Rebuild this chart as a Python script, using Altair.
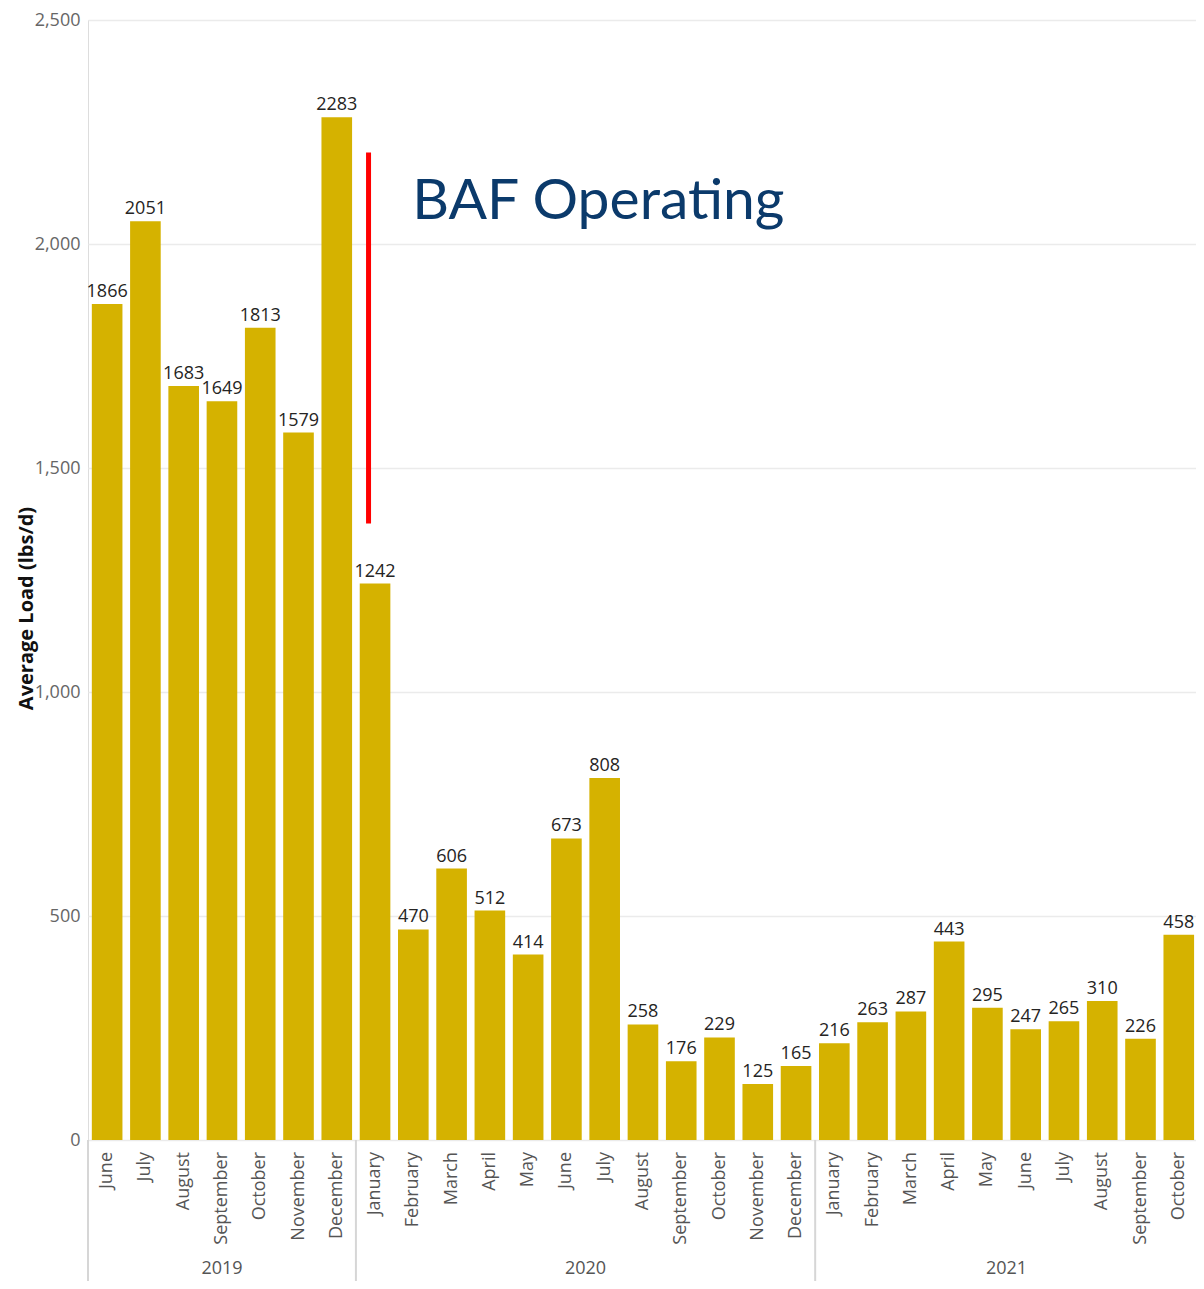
import altair as alt
import pandas as pd

# ---- data ----
months_2019 = ["June", "July", "August", "September", "October", "November", "December"]
values_2019 = [1866, 2051, 1683, 1649, 1813, 1579, 2283]
months_2020 = ["January", "February", "March", "April", "May", "June", "July",
               "August", "September", "October", "November", "December"]
values_2020 = [1242, 470, 606, 512, 414, 673, 808, 258, 176, 229, 125, 165]
months_2021 = ["January", "February", "March", "April", "May", "June", "July",
               "August", "September", "October"]
values_2021 = [216, 263, 287, 443, 295, 247, 265, 310, 226, 458]

y_ticks = [0, 500, 1000, 1500, 2000, 2500]

# annotation: red marker between December 2019 and January 2020
baf_line_x = [7.33]
baf_line_y = [1376]
baf_line_y2 = [2204]
baf_text = ["BAF Operating"]
baf_text_x = [8.47]
baf_text_y = [2055]

rows = []
i = 0
for yr, ms, vs in (("2019", months_2019, values_2019),
                   ("2020", months_2020, values_2020),
                   ("2021", months_2021, values_2021)):
    for m, v in zip(ms, vs):
        rows.append({"idx": i, "year": yr, "month": m, "value": v})
        i += 1
df = pd.DataFrame(rows)
ann = pd.DataFrame({"x": baf_line_x, "y": baf_line_y, "y2": baf_line_y2})
txt = pd.DataFrame({"x": baf_text_x, "y": baf_text_y, "t": baf_text})

W, H = 1108, 1120
FONT = "Open Sans"
BAR = "#D5B200"

xs = alt.Scale(domain=[0, 28.95], nice=False, zero=False)
ys = alt.Scale(domain=[0, 2500], nice=False)
yaxis = alt.Axis(values=y_ticks, format=",.0f", title="Average Load (lbs/d)",
                 grid=True, gridColor="#EBEBEB", gridWidth=1.5,
                 domain=False, ticks=False, labelPadding=8,
                 labelFont=FONT, labelFontSize=18, labelColor="#666666",
                 titleFont=FONT, titleFontSize=20, titleFontWeight="bold",
                 titleColor="#111111", titleAngle=270, titleBaseline="middle",
                 titleAlign="center", titleX=-62, titleY=588)

base = alt.Chart(df)

bars = base.transform_calculate(
    x0="datum.idx + 0.1", x1="datum.idx + 0.9"
).mark_bar(color=BAR).encode(
    x=alt.X("x0:Q", scale=xs, axis=None),
    x2="x1:Q",
    y=alt.Y("value:Q", scale=ys, axis=yaxis),
    y2=alt.datum(0),
)

value_labels = base.transform_calculate(xc="datum.idx + 0.5").mark_text(
    font=FONT, fontSize=18, color="#252423", baseline="alphabetic", dy=-7
).encode(
    x=alt.X("xc:Q", scale=xs, axis=None),
    y=alt.Y("value:Q", scale=ys, axis=yaxis),
    text=alt.Text("value:Q", format="d"),
)

month_labels = base.transform_calculate(xc="datum.idx + 0.5").mark_text(
    font=FONT, fontSize=18, color="#555555", angle=270, align="right", baseline="middle"
).encode(
    x=alt.X("xc:Q", scale=xs, axis=None),
    y=alt.value(H + 12),
    text="month:N",
)

year_labels = base.transform_aggregate(
    mid="mean(idx)", groupby=["year"]
).transform_calculate(xc="datum.mid + 0.5").mark_text(
    font=FONT, fontSize=18, color="#555555", baseline="middle"
).encode(
    x=alt.X("xc:Q", scale=xs, axis=None),
    y=alt.value(H + 129),
    text="year:N",
)

separators = base.transform_aggregate(
    first="min(idx)", groupby=["year"]
).mark_rule(color="#D6D6D6", strokeWidth=2).encode(
    x=alt.X("first:Q", scale=xs, axis=None),
    y=alt.value(H),
    y2=alt.value(H + 160),
)

red_line = alt.Chart(ann).mark_rule(color="#FF0000", strokeWidth=5).encode(
    x=alt.X("x:Q", scale=xs, axis=None),
    y=alt.Y("y:Q", scale=ys, axis=yaxis),
    y2="y2:Q",
)

baf = alt.Chart(txt).mark_text(
    font="Lato", fontSize=57, color="#0B3A6B", align="left", baseline="alphabetic"
).encode(
    x=alt.X("x:Q", scale=xs, axis=None),
    y=alt.Y("y:Q", scale=ys, axis=yaxis),
    text="t:N",
)

chart = alt.layer(
    bars, value_labels, month_labels, year_labels, separators, red_line, baf
).properties(
    width=W, height=H,
    padding={"left": 80, "top": 12, "right": 0, "bottom": 141},
    autosize=alt.AutoSizeParams(type="none"),
).configure_view(strokeWidth=0).configure(background="white")

chart.save("out.html", embed_options={"renderer": "svg", "actions": False})
